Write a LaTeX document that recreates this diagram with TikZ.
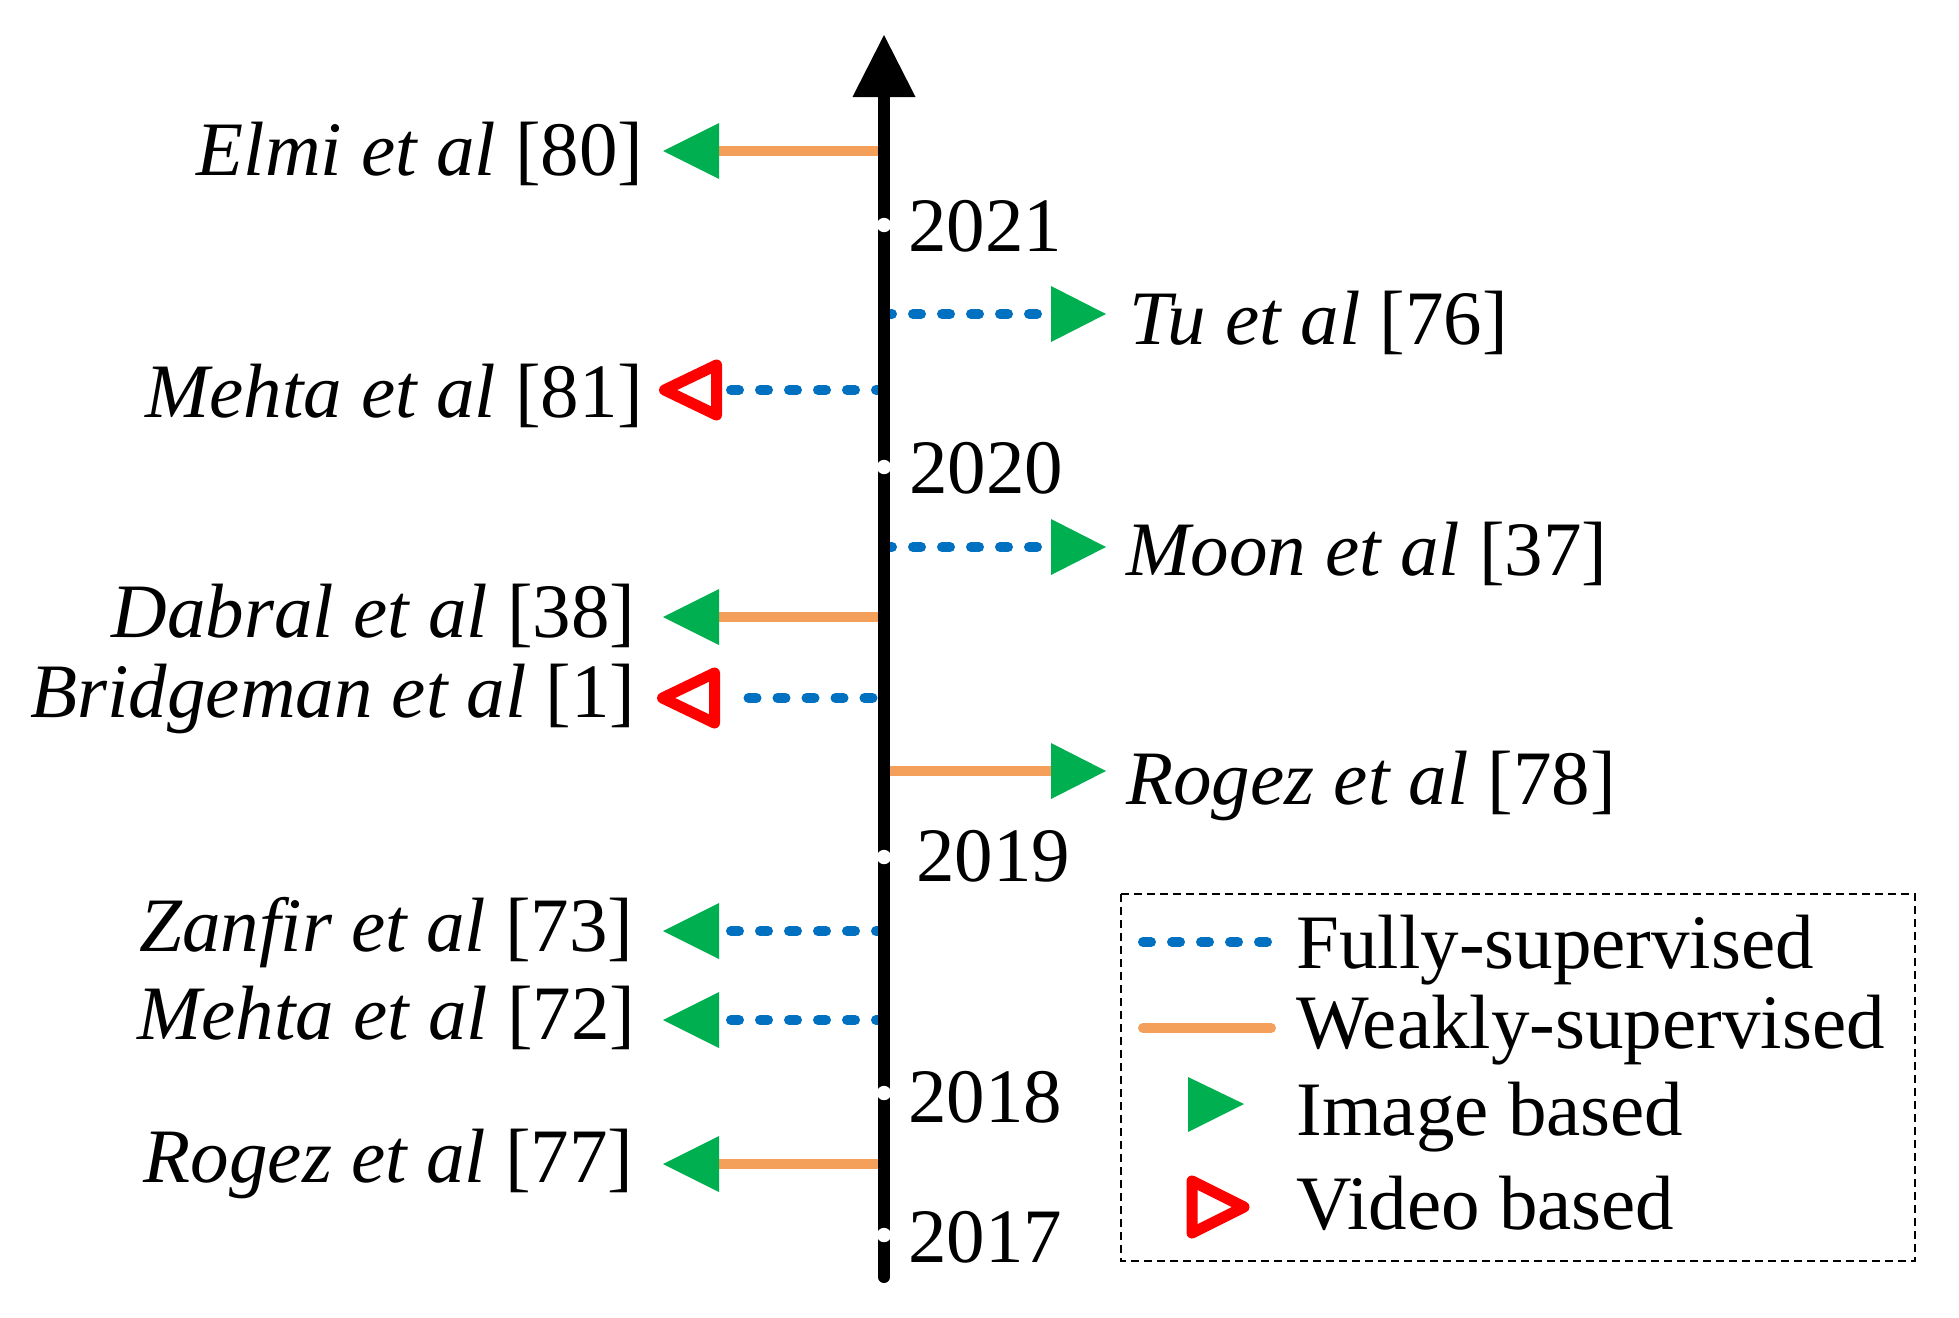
\documentclass[tikz,border=0pt]{standalone}
\usepackage{fontspec}
\setmainfont{Liberation Serif}
\usetikzlibrary{arrows.meta}
\definecolor{fsblue}{RGB}{0,112,192}
\definecolor{wsorange}{RGB}{244,160,90}
\definecolor{imggreen}{RGB}{0,176,80}
\definecolor{vidred}{RGB}{255,0,0}
\newcommand\tlfont{\fontsize{38.5}{46}\selectfont}
\begin{document}
\begin{tikzpicture}[x=0.5pt,y=-0.5pt,
  axisline/.style={line width=6pt, line cap=round, -{Triangle[length=31pt,width=31.5pt,line width=0pt]}},
  fully/.style={draw=fsblue, line width=5pt, line cap=round, dash pattern=on 4pt off 10.5pt},
  weakly/.style={draw=wsorange, line width=5pt},
  lbl/.style={font=\tlfont, inner sep=0pt},
  yeardot/.style={fill=white},
  legbox/.style={draw=black, line width=1pt, dash pattern=on 4pt off 2.5pt},
  imgL/.pic={\fill[imggreen] (0,0) -- (56,-28) -- (56,28) -- cycle;},
  imgR/.pic={\fill[imggreen] (0,0) -- (-55,-28) -- (-55,28) -- cycle;},
  vidL/.pic={\draw[vidred, line width=5.5pt, line join=round] (5.5,0) -- (57.5,-25) -- (57.5,25) -- cycle;}
]
\useasboundingbox (0,0) rectangle (1959,1317);

% ---------- left entries ----------
\coordinate (elmiA) at (884,151);   \coordinate (elmiB) at (719,151);  \coordinate (elmiT) at (663,151);
\draw[weakly] (elmiA) -- (elmiB);
\pic at (elmiT) {imgL};
\node[lbl, anchor=base east] (elmiL) at (644,175) {\textit{Elmi et al} [80]};

\coordinate (mehtaaA) at (884,390); \coordinate (mehtaaB) at (719,390); \coordinate (mehtaaT) at (659,390);
\draw[fully] (mehtaaA) -- (mehtaaB);
\pic at (mehtaaT) {vidL};
\node[lbl, anchor=base east] (mehtaaL) at (644,417) {\textit{Mehta et al} [81]};

\coordinate (dabralA) at (884,617); \coordinate (dabralB) at (719,617); \coordinate (dabralT) at (663,617);
\draw[weakly] (dabralA) -- (dabralB);
\pic at (dabralT) {imgL};
\node[lbl, anchor=base east] (dabralL) at (636,637) {\textit{Dabral et al} [38]};

\coordinate (bridgA) at (884,698);  \coordinate (bridgB) at (736,698); \coordinate (bridgT) at (657,698);
\draw[fully, dash phase=8.75pt] (bridgA) -- (bridgB);
\pic at (bridgT) {vidL};
\node[lbl, anchor=base east] (bridgL) at (636,717) {\textit{Bridgeman et al} [1]};

\coordinate (zanfirA) at (884,931); \coordinate (zanfirB) at (719,931); \coordinate (zanfirT) at (663,931);
\draw[fully] (zanfirA) -- (zanfirB);
\pic at (zanfirT) {imgL};
\node[lbl, anchor=base east] (zanfirL) at (634,951) {\textit{Zanfir et al} [73]};

\coordinate (mehtabA) at (884,1020); \coordinate (mehtabB) at (719,1020); \coordinate (mehtabT) at (663,1020);
\draw[fully] (mehtabA) -- (mehtabB);
\pic at (mehtabT) {imgL};
\node[lbl, anchor=base east] (mehtabL) at (636,1039) {\textit{Mehta et al} [72]};

\coordinate (rogezaA) at (884,1164); \coordinate (rogezaB) at (719,1164); \coordinate (rogezaT) at (663,1164);
\draw[weakly] (rogezaA) -- (rogezaB);
\pic at (rogezaT) {imgL};
\node[lbl, anchor=base east] (rogezaL) at (634,1182) {\textit{Rogez et al} [77]};

% ---------- right entries ----------
\coordinate (tuA) at (884,314); \coordinate (tuB) at (1051,314); \coordinate (tuT) at (1106,314);
\draw[fully] (tuA) -- (tuB);
\pic at (tuT) {imgR};
\node[lbl, anchor=base west] (tuL) at (1129,344) {\textit{Tu et al} [76]};

\coordinate (moonA) at (884,547); \coordinate (moonB) at (1051,547); \coordinate (moonT) at (1106,547);
\draw[fully] (moonA) -- (moonB);
\pic at (moonT) {imgR};
\node[lbl, anchor=base west] (moonL) at (1126,575) {\textit{Moon et al} [37]};

\coordinate (rogezbA) at (884,771); \coordinate (rogezbB) at (1051,771); \coordinate (rogezbT) at (1106,771);
\draw[weakly] (rogezbA) -- (rogezbB);
\pic at (rogezbT) {imgR};
\node[lbl, anchor=base west] (rogezbL) at (1126,804) {\textit{Rogez et al} [78]};

% ---------- axis ----------
\coordinate (axB) at (884,1277);
\coordinate (axT) at (884,35);
\draw[axisline] (axB) -- (axT);

\fill[yeardot] (884,225) circle (3.6pt);
\fill[yeardot] (884,467) circle (3.6pt);
\fill[yeardot] (884,857) circle (3.6pt);
\fill[yeardot] (884,1093) circle (3.6pt);
\fill[yeardot] (884,1235) circle (3.6pt);
\node[lbl, anchor=base west] (y2021) at (908,251) {2021};
\node[lbl, anchor=base west] (y2020) at (909,493) {2020};
\node[lbl, anchor=base west] (y2019) at (916,881) {2019};
\node[lbl, anchor=base west] (y2018) at (908,1122) {2018};
\node[lbl, anchor=base west] (y2017) at (908,1262) {2017};

% ---------- legend ----------
\draw[legbox] (1121,894) rectangle (1915,1261);
\draw[fully] (1143,942) -- (1268,942);
\draw[weakly, line cap=round] (1143,1028) -- (1271,1028);
\fill[imggreen] (1188,1077) -- (1244,1104) -- (1188,1132) -- cycle;
\draw[vidred, line width=5.5pt, line join=round] (1192,1181) -- (1244,1207) -- (1192,1233) -- cycle;
\node[lbl, anchor=base west] (legF) at (1296,968) {Fully-supervised};
\node[lbl, anchor=base west] (legW) at (1296,1048) {Weakly-supervised};
\node[lbl, anchor=base west] (legI) at (1296,1135) {Image based};
\node[lbl, anchor=base west] (legV) at (1296,1229) {Video based};
\end{tikzpicture}
\end{document}
